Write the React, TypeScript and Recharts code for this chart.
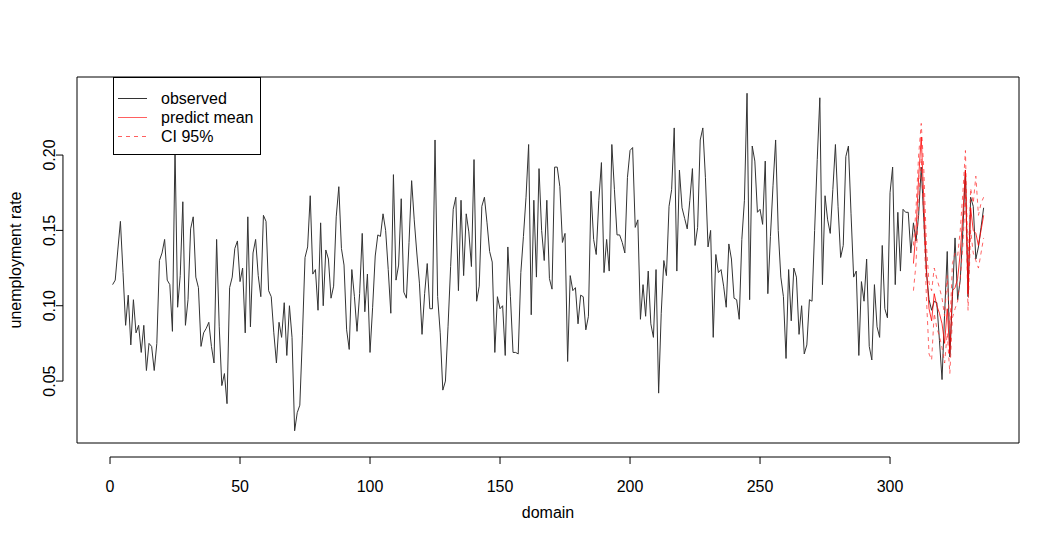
import React from 'react';
import { LineChart, Line, XAxis, YAxis, ReferenceLine, ReferenceArea } from 'recharts';

// observed unemployment rate, index 1..336
const observed = [
  0.114, 0.117, 0.137, 0.156, 0.122, 0.087, 0.107, 0.074, 0.104, 0.082,
  0.087, 0.069, 0.087, 0.057, 0.075, 0.073, 0.057, 0.075, 0.130, 0.135,
  0.144, 0.117, 0.114, 0.083, 0.205, 0.099, 0.120, 0.169, 0.087, 0.104,
  0.151, 0.159, 0.119, 0.112, 0.073, 0.082, 0.085, 0.089, 0.073, 0.062,
  0.144, 0.086, 0.047, 0.055, 0.035, 0.112, 0.119, 0.138, 0.143, 0.116,
  0.125, 0.082, 0.159, 0.086, 0.135, 0.144, 0.120, 0.106, 0.160, 0.156,
  0.110, 0.106, 0.082, 0.062, 0.089, 0.079, 0.102, 0.067, 0.100, 0.079,
  0.017, 0.029, 0.034, 0.080, 0.132, 0.139, 0.173, 0.121, 0.124, 0.097,
  0.155, 0.100, 0.137, 0.131, 0.105, 0.113, 0.159, 0.179, 0.138, 0.127,
  0.084, 0.071, 0.124, 0.106, 0.083, 0.108, 0.148, 0.096, 0.121, 0.069,
  0.099, 0.133, 0.147, 0.146, 0.161, 0.150, 0.124, 0.095, 0.187, 0.117,
  0.127, 0.171, 0.109, 0.105, 0.142, 0.183, 0.157, 0.135, 0.115, 0.081,
  0.108, 0.128, 0.098, 0.098, 0.210, 0.106, 0.082, 0.044, 0.050, 0.086,
  0.126, 0.164, 0.172, 0.110, 0.170, 0.120, 0.161, 0.149, 0.126, 0.197,
  0.103, 0.113, 0.166, 0.172, 0.155, 0.136, 0.129, 0.069, 0.106, 0.098,
  0.100, 0.067, 0.139, 0.106, 0.069, 0.069, 0.068, 0.122, 0.146, 0.172,
  0.207, 0.094, 0.170, 0.119, 0.191, 0.150, 0.130, 0.170, 0.118, 0.111,
  0.192, 0.192, 0.179, 0.142, 0.148, 0.063, 0.120, 0.110, 0.112, 0.088,
  0.107, 0.106, 0.084, 0.093, 0.176, 0.144, 0.134, 0.170, 0.195, 0.122,
  0.144, 0.123, 0.207, 0.177, 0.147, 0.147, 0.142, 0.135, 0.185, 0.203,
  0.205, 0.152, 0.157, 0.091, 0.114, 0.093, 0.123, 0.088, 0.079, 0.124,
  0.042, 0.095, 0.130, 0.120, 0.166, 0.177, 0.218, 0.123, 0.190, 0.165,
  0.158, 0.151, 0.170, 0.191, 0.140, 0.152, 0.210, 0.218, 0.185, 0.139,
  0.150, 0.079, 0.134, 0.122, 0.124, 0.113, 0.099, 0.141, 0.131, 0.105,
  0.104, 0.091, 0.144, 0.170, 0.241, 0.104, 0.206, 0.196, 0.162, 0.164,
  0.154, 0.196, 0.108, 0.146, 0.180, 0.210, 0.150, 0.119, 0.106, 0.065,
  0.124, 0.090, 0.125, 0.119, 0.081, 0.100, 0.068, 0.074, 0.104, 0.103,
  0.150, 0.197, 0.238, 0.114, 0.173, 0.157, 0.148, 0.177, 0.207, 0.166,
  0.132, 0.140, 0.199, 0.206, 0.161, 0.119, 0.123, 0.067, 0.116, 0.103,
  0.131, 0.073, 0.064, 0.114, 0.086, 0.079, 0.140, 0.098, 0.092, 0.175,
  0.192, 0.114, 0.162, 0.123, 0.164, 0.162, 0.162, 0.135, 0.155, 0.143,
  0.160, 0.192, 0.157, 0.122, 0.104, 0.097, 0.103, 0.102, 0.077, 0.051,
  0.095, 0.136, 0.066, 0.106, 0.145, 0.104, 0.117, 0.150, 0.190, 0.106,
  0.172, 0.166, 0.131, 0.139, 0.152, 0.165,
];

// prediction starts at index 309
const PRED_START = 309;
const predictMean = [
  0.128, 0.150, 0.185, 0.212, 0.170, 0.125, 0.098, 0.090, 0.108, 0.100,
  0.095, 0.088, 0.075, 0.098, 0.068, 0.110, 0.112, 0.118, 0.135, 0.160,
  0.190, 0.108, 0.165, 0.150, 0.148, 0.140, 0.150, 0.160,
];
const ciLower = [
  0.110, 0.128, 0.168, 0.198, 0.155, 0.105, 0.068, 0.064, 0.095, 0.085,
  0.080, 0.072, 0.062, 0.082, 0.055, 0.092, 0.098, 0.103, 0.118, 0.140,
  0.175, 0.097, 0.150, 0.135, 0.130, 0.125, 0.135, 0.145,
];
const ciUpper = [
  0.140, 0.165, 0.200, 0.221, 0.190, 0.140, 0.115, 0.110, 0.125, 0.118,
  0.112, 0.105, 0.093, 0.120, 0.085, 0.128, 0.135, 0.133, 0.150, 0.175,
  0.203, 0.125, 0.178, 0.168, 0.186, 0.160, 0.168, 0.172,
];

const xTicks = [0, 50, 100, 150, 200, 250, 300];
const yTicks = [0.05, 0.1, 0.15, 0.2];

const X_DOMAIN: [number, number] = [-12.7, 349.6];
const Y_DOMAIN: [number, number] = [0.0089, 0.2518];

const data = observed.map((v, i) => {
  const idx = i + 1;
  const k = idx - PRED_START;
  const inPred = k >= 0 && k < predictMean.length;
  return {
    idx,
    observed: v,
    mean: inPred ? predictMean[k] : null,
    lower: inPred ? ciLower[k] : null,
    upper: inPred ? ciUpper[k] : null,
  };
});

const FONT = 'Liberation Sans, Arial, Helvetica, sans-serif';

const XTick = (props: any) => {
  const { x, y, payload } = props;
  return (
    <g>
      <line x1={x} x2={x} y1={y + 14} y2={y + 21} stroke="#000" />
      <text x={x} y={y + 49} textAnchor="middle" fontSize={16} fontFamily={FONT} fill="#000">
        {payload.value}
      </text>
    </g>
  );
};

const YTick = (props: any) => {
  const { x, y, payload } = props;
  return (
    <g>
      <line x1={x - 14} x2={x - 21} y1={y} y2={y} stroke="#000" />
      <text
        transform={`translate(${x - 22},${y}) rotate(-90)`}
        textAnchor="middle"
        fontSize={16}
        fontFamily={FONT}
        fill="#000"
      >
        {Number(payload.value).toFixed(2)}
      </text>
    </g>
  );
};

function LegendBox() {
  const rows = [
    { label: 'observed', color: '#333', dash: undefined as string | undefined },
    { label: 'predict mean', color: '#ff6060', dash: undefined },
    { label: 'CI 95%', color: '#ff6060', dash: '4 4' },
  ];
  return (
    <svg
      width={149}
      height={80}
      style={{ position: 'absolute', left: 112, top: 76, fontFamily: FONT, zIndex: 10 }}
    >
      <rect x={1.5} y={1.5} width={147} height={77} fill="#fff" stroke="#000" />
      {rows.map((r, i) => (
        <g key={r.label}>
          <line
            x1={6}
            x2={35}
            y1={22.5 + i * 19}
            y2={22.5 + i * 19}
            stroke={r.color}
            strokeDasharray={r.dash}
          />
          <text x={49} y={28 + i * 19} fontSize={16} fill="#000">
            {r.label}
          </text>
        </g>
      ))}
    </svg>
  );
}

export default function App() {
  return (
    <div style={{ position: 'fixed', left: 0, top: 0, width: 1059, height: 542, background: '#fff' }}>
      <LineChart
        width={1059}
        height={542}
        data={data}
        margin={{ top: 77, right: 40, bottom: 0, left: 0 }}
      >
        <XAxis
          dataKey="idx"
          type="number"
          domain={X_DOMAIN}
          ticks={xTicks}
          allowDataOverflow
          axisLine={false}
          tickLine={false}
          tickSize={0}
          tickMargin={0}
          height={99}
          tick={<XTick />}
          label={{
            content: (p: any) => {
              const vb = p.viewBox || {};
              return (
                <text x={vb.x + vb.width / 2} y={vb.y + 75} textAnchor="middle" fontSize={16} fontFamily={FONT}>
                  domain
                </text>
              );
            },
          }}
        />
        <YAxis
          type="number"
          domain={Y_DOMAIN}
          ticks={yTicks}
          allowDataOverflow
          axisLine={false}
          tickLine={false}
          tickSize={0}
          tickMargin={0}
          width={77}
          tick={<YTick />}
          label={{
            content: (p: any) => {
              const vb = p.viewBox || {};
              const cy = vb.y + vb.height / 2;
              return (
                <text
                  transform={`translate(21,${cy}) rotate(-90)`}
                  textAnchor="middle"
                  fontSize={16}
                  fontFamily={FONT}
                >
                  unemployment rate
                </text>
              );
            },
          }}
        />
        <ReferenceArea
          x1={X_DOMAIN[0]}
          x2={X_DOMAIN[1]}
          y1={Y_DOMAIN[0]}
          y2={Y_DOMAIN[1]}
          fill="none"
          stroke="#000"
          ifOverflow="visible"
        />
        <ReferenceLine
          segment={[{ x: 0, y: -0.0004 }, { x: 300, y: -0.0004 }]}
          stroke="#000"
          ifOverflow="visible"
        />
        <ReferenceLine
          segment={[{ x: -18.1, y: 0.05 }, { x: -18.1, y: 0.2 }]}
          stroke="#000"
          ifOverflow="visible"
        />
        <Line
          type="linear"
          dataKey="observed"
          stroke="#333"
          strokeWidth={1}
          dot={false}
          isAnimationActive={false}
        />
        <Line
          type="linear"
          dataKey="lower"
          stroke="#ff3030"
          strokeOpacity={0.75}
          strokeDasharray="4 4"
          strokeWidth={1}
          dot={false}
          isAnimationActive={false}
        />
        <Line
          type="linear"
          dataKey="upper"
          stroke="#ff3030"
          strokeOpacity={0.75}
          strokeDasharray="4 4"
          strokeWidth={1}
          dot={false}
          isAnimationActive={false}
        />
        <Line
          type="linear"
          dataKey="mean"
          stroke="#ff0000"
          strokeOpacity={0.8}
          strokeWidth={1}
          dot={false}
          isAnimationActive={false}
        />
      </LineChart>
      <LegendBox />
    </div>
  );
}
